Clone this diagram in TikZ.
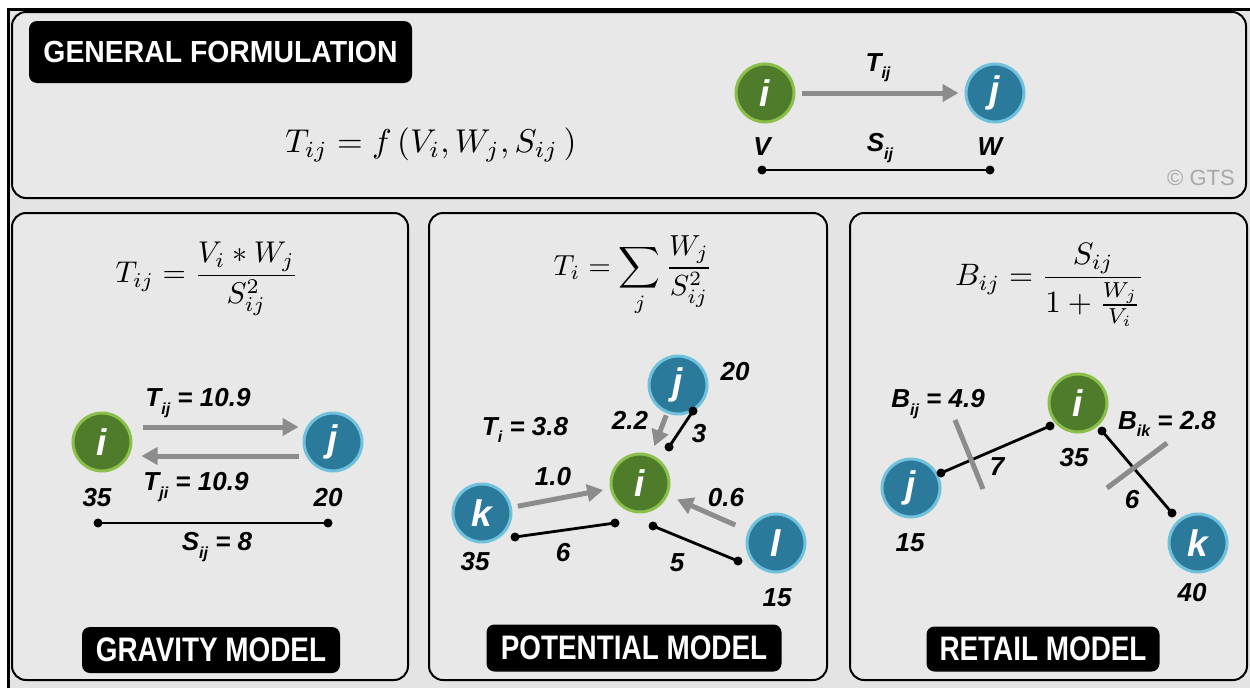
\documentclass[tikz,border=0pt]{standalone}
\usepackage{amsmath}
\usepackage{graphicx}
\usepackage{fontspec}
\usetikzlibrary{arrows.meta,calc}
\newfontfamily\labfont{Liberation Sans}
\newfontfamily\ttlA[FakeStretch=0.93]{Liberation Sans}
\newfontfamily\ttlB[FakeStretch=0.82]{Liberation Sans}
\definecolor{bgc}{HTML}{E4E4E4}
\definecolor{panelc}{HTML}{E8E8E8}
\definecolor{gfill}{HTML}{4E7C2B}
\definecolor{gring}{HTML}{8BBF4A}
\definecolor{bfill}{HTML}{2C7A9B}
\definecolor{bring}{HTML}{70C2DC}
\definecolor{arrc}{HTML}{8C8C8C}
\definecolor{gtsc}{HTML}{A8A8A8}
\newcommand\lsub[1]{\raisebox{-0.28em}{\fontsize{16}{16}\selectfont #1}}
\tikzset{
  panel/.style={draw=black, line width=2pt, fill=panelc, rounded corners=14pt},
  ttlbox/.style={fill=black, text=white, rounded corners=8pt, inner sep=0pt},
  gnode/.style={circle, fill=gfill, draw=gring, line width=3pt, minimum size=58pt, inner sep=0pt, text=white, font=\labfont\bfseries\itshape\fontsize{37}{37}\selectfont},
  bnode/.style={circle, fill=bfill, draw=bring, line width=3pt, minimum size=58pt, inner sep=0pt, text=white, font=\labfont\bfseries\itshape\fontsize{37}{37}\selectfont},
  lab/.style={inner sep=0pt, font=\labfont\bfseries\itshape\fontsize{26}{26}\selectfont},
  flow/.style={draw=arrc, line width=5pt, -{Triangle[length=16pt,width=17pt]}},
  dist/.style={draw=black, line width=2.8pt},
  barx/.style={draw=arrc, line width=5pt},
  frm/.style={inner sep=0pt, font=\normalsize},
}
\begin{document}
\begin{tikzpicture}[x=1pt,y=-1pt]
\useasboundingbox (0,0) rectangle (1250,688);
\fill[white] (0,0) rectangle (1250,688);
\fill[bgc] (8,9) rectangle (1250,688);
\draw[line width=3pt] (8,688) -- (8,9) -- (1250,9);

% ---------- top panel ----------
\draw[panel] (12,12) rectangle (1246,198);
\node[ttlbox, minimum width=383pt, minimum height=62pt] (tgen) at (220.5,52) {\ttlA\bfseries\fontsize{30.5}{30.5}\selectfont GENERAL FORMULATION};
\node[frm] (f0) at (431,145) {\scalebox{3.3}{$T_{ij} = f\left(V_i, W_j, S_{ij}\,\right)$}};
\node[gnode] (ti) at (765,93) {i};
\node[bnode] (tj) at (995,93) {j};
\draw[flow, shorten <=6pt, shorten >=6pt] (ti) -- (tj);
\node[lab] (tT) at (878,68) {T\lsub{ij}};
\node[lab] (tV) at (762,147) {V};
\node[lab] (tS) at (880,148) {S\lsub{ij}};
\node[lab] (tW) at (990,147) {W};
\coordinate (tda) at (762,170);
\coordinate (tdb) at (990,170);
\draw[dist] (tda) -- (tdb);
\fill (tda) circle (4.5) (tdb) circle (4.5);
\node[inner sep=0pt, text=gtsc, font=\labfont\fontsize{22}{22}\selectfont] (gts) at (1201,178) {© GTS};

% ---------- gravity model ----------
\draw[panel] (12,213) rectangle (408,680);
\node[frm] (fg) at (207,279) {\scalebox{3}{$\displaystyle T_{ij} = \frac{V_i * W_j}{S_{ij}^2}$}};
\node[gnode] (gi) at (102,442) {i};
\node[bnode] (gj) at (333,442) {j};
\draw[flow] ([yshift=15pt,xshift=10pt]gi.east) -- ([yshift=15pt,xshift=-4pt]gj.west);
\draw[flow] ([yshift=-14pt,xshift=-4pt]gj.west) -- ([yshift=-14pt,xshift=9pt]gi.east);
\node[lab] (gT1) at (198,403) {T\lsub{ij} = 10.9};
\node[lab] (gT2) at (196,487) {T\lsub{ji} = 10.9};
\node[lab] (g35) at (97,498) {35};
\node[lab] (g20) at (328,498) {20};
\coordinate (gda) at (98,523);
\coordinate (gdb) at (328,523);
\draw[dist] (gda) -- (gdb);
\fill (gda) circle (4.5) (gdb) circle (4.5);
\node[lab] (gS) at (217,547) {S\lsub{ij} = 8};
\node[ttlbox, minimum width=258pt, minimum height=46pt] (tgrav) at (211,650) {\ttlB\bfseries\fontsize{34}{34}\selectfont GRAVITY MODEL};

% ---------- potential model ----------
\draw[panel] (429,213) rectangle (827,680);
\node[frm] (fp) at (633,276) {\scalebox{2.9}{$\displaystyle T_i = \sum_j \frac{W_j}{S_{ij}^2}$}};
\node[bnode] (pj) at (678,385) {j};
\node[gnode] (pi) at (640,483) {i};
\node[bnode] (pk) at (482,513) {k};
\node[bnode] (pl) at (776,543) {l};
\node[lab] (p20) at (735,372) {20};
\node[lab] (pT) at (525,430) {T\lsub{i} = 3.8};
\node[lab] (p22) at (630,420) {2.2};
\draw[flow, shorten <=2pt, shorten >=9pt] (pj) -- (pi);
\coordinate (p3a) at (693,411);
\coordinate (p3b) at (669,447);
\draw[dist] (p3a) -- (p3b);
\fill (p3a) circle (4.5) (p3b) circle (4.5);
\node[lab] (p3) at (699,434) {3};
\node[lab] (p10) at (553,477) {1.0};
\draw[flow, shorten <=6pt, shorten >=7pt] (pk) -- (pi);
\node[lab] (p06) at (726,498) {0.6};
\draw[flow, shorten <=14pt, shorten >=10pt] (pl) -- (pi);
\coordinate (p6a) at (515,537);
\coordinate (p6b) at (615,523);
\draw[dist] (p6a) -- (p6b);
\fill (p6a) circle (4.5) (p6b) circle (4.5);
\node[lab] (p6) at (563,553) {6};
\coordinate (p5a) at (653,526);
\coordinate (p5b) at (738,561);
\draw[dist] (p5a) -- (p5b);
\fill (p5a) circle (4.5) (p5b) circle (4.5);
\node[lab] (p5) at (677,563) {5};
\node[lab] (p35) at (475,562) {35};
\node[lab] (p15) at (777,598) {15};
\node[ttlbox, minimum width=295pt, minimum height=47pt] (tpot) at (634,648) {\ttlB\bfseries\fontsize{34}{34}\selectfont POTENTIAL MODEL};

% ---------- retail model ----------
\draw[panel] (850,213) rectangle (1247,680);
\node[frm] (fr) at (1050,285) {\scalebox{3.1}{$\displaystyle B_{ij} = \frac{S_{ij}}{1+\frac{W_j}{V_i}}$}};
\node[gnode] (ri) at (1078,403) {i};
\node[bnode] (rj) at (911,488) {j};
\node[bnode] (rk) at (1198,543) {k};
\node[lab] (rB1) at (938,404) {B\lsub{ij} = 4.9};
\node[lab] (rB2) at (1167,424) {B\lsub{ik} = 2.8};
\coordinate (r7a) at (941,473);
\coordinate (r7b) at (1050,426);
\draw[dist] (r7a) -- (r7b);
\fill (r7a) circle (4.5) (r7b) circle (4.5);
\coordinate (rxa) at (955,420);
\coordinate (rxb) at (983,489);
\draw[barx] (rxa) -- (rxb);
\node[lab] (r7) at (997,467) {7};
\node[lab] (r35) at (1074,458) {35};
\node[lab] (r15) at (910,543) {15};
\coordinate (r6a) at (1102,431);
\coordinate (r6b) at (1172,513);
\draw[dist] (r6a) -- (r6b);
\fill (r6a) circle (4.5) (r6b) circle (4.5);
\coordinate (rya) at (1167,443);
\coordinate (ryb) at (1107,488);
\draw[barx] (rya) -- (ryb);
\node[lab] (r6) at (1132,500) {6};
\node[lab] (r40) at (1192,593) {40};
\node[ttlbox, minimum width=233pt, minimum height=45pt] (tret) at (1043,649) {\ttlB\bfseries\fontsize{34}{34}\selectfont RETAIL MODEL};
\end{tikzpicture}
\end{document}
